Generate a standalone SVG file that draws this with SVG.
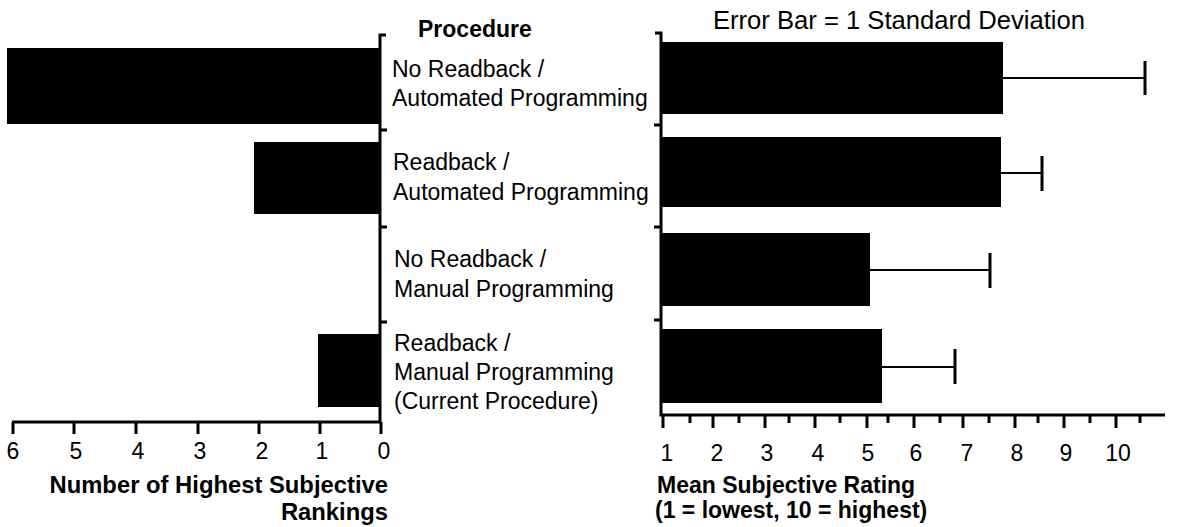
<svg xmlns="http://www.w3.org/2000/svg" width="1178" height="527" viewBox="0 0 1178 527">
<style>
text{font-family:"Liberation Sans",Arial,sans-serif;fill:#000;font-size:23px}
.b{font-weight:bold}
.axis{stroke:#000;stroke-width:3;fill:none}
.tick{stroke:#000;stroke-width:3}
.err{stroke:#000;stroke-width:2}
.cap{stroke:#000;stroke-width:3}
.bar{fill:#000}
.mid{text-anchor:middle}
.end{text-anchor:end}
text.big{font-size:25.6px}
text.lt{font-size:23.8px}
</style>
<rect width="1178" height="527" fill="#fff"/>
<g id="left-chart">
  <g id="left-bars">
    <rect class="bar" x="7" y="48" width="373" height="76"/>
    <rect class="bar" x="254" y="142" width="126" height="72"/>
    <rect class="bar" x="318" y="334" width="62" height="73"/>
  </g>
  <g id="left-axes">
    <path class="axis" d="M386,35 H380 V422 H12"/>
    <path class="tick" d="M380,130 H387 M380,227 H387 M380,322 H387"/>
    <path class="tick" d="M13,422 V434 M74,422 V434 M136,422 V434 M198,422 V434 M259,422 V434 M320,422 V434 M381,422 V434"/>
  </g>
  <g id="left-ticklabels" class="mid">
    <text x="13" y="459">6</text>
    <text x="76" y="459">5</text>
    <text x="138" y="459">4</text>
    <text x="200" y="459">3</text>
    <text x="262" y="459">2</text>
    <text x="322" y="459">1</text>
    <text x="384" y="459">0</text>
  </g>
  <g id="left-title" class="b end">
    <text class="lt" x="388" y="493">Number of Highest Subjective</text>
    <text class="lt" x="388" y="520">Rankings</text>
  </g>
</g>
<g id="categories">
  <text class="b" x="418" y="37">Procedure</text>
  <g id="cat1"><text x="392" y="77">No Readback /</text><text x="392" y="106">Automated Programming</text></g>
  <g id="cat2"><text x="393" y="170">Readback /</text><text x="393" y="200">Automated Programming</text></g>
  <g id="cat3"><text x="394" y="267">No Readback /</text><text x="394" y="297">Manual Programming</text></g>
  <g id="cat4"><text x="394" y="351">Readback /</text><text x="394" y="380">Manual Programming</text><text x="394" y="409">(Current Procedure)</text></g>
</g>
<g id="right-chart">
  <text id="right-title" class="big" x="713" y="29">Error Bar = 1 Standard Deviation</text>
  <g id="right-bars">
    <rect class="bar" x="661" y="42" width="342" height="72"/>
    <rect class="bar" x="661" y="137" width="340" height="70"/>
    <rect class="bar" x="661" y="233" width="209" height="73"/>
    <rect class="bar" x="661" y="329" width="221" height="74"/>
  </g>
  <g id="error-bars">
    <path class="err" d="M1003,78 H1145 M1001,173 H1042 M870,270 H990 M882,367 H955"/>
    <path class="cap" d="M1145,61 V95 M1042,156 V191 M990,253 V288 M955,349 V384"/>
  </g>
  <g id="right-axes">
    <path class="axis" d="M655,33 H661 V415 H1165"/>
    <path class="tick" d="M661,125 H654 M661,227 H654 M661,320 H654"/>
    <path class="tick" d="M663,415 V428 M713,415 V428 M765,415 V428 M815,415 V428 M867,415 V428 M914,415 V428 M963,415 V428 M1015,415 V428 M1064,415 V428 M1116,415 V428"/>
    <path class="tick" d="M690,415 V423 M739,415 V423 M789,415 V423 M840,415 V423 M888,415 V423 M940,415 V423 M989,415 V423 M1038,415 V423 M1090,415 V423 M1140,415 V423"/>
  </g>
  <g id="right-ticklabels" class="mid">
    <text x="667" y="461">1</text>
    <text x="717" y="461">2</text>
    <text x="767" y="461">3</text>
    <text x="818" y="461">4</text>
    <text x="868" y="461">5</text>
    <text x="916" y="461">6</text>
    <text x="967" y="461">7</text>
    <text x="1017" y="461">8</text>
    <text x="1066" y="461">9</text>
    <text x="1118" y="461">10</text>
  </g>
  <g id="right-xtitle" class="b">
    <text x="657" y="493">Mean Subjective Rating</text>
    <text x="655" y="518">(1 = lowest, 10 = highest)</text>
  </g>
</g>
</svg>
